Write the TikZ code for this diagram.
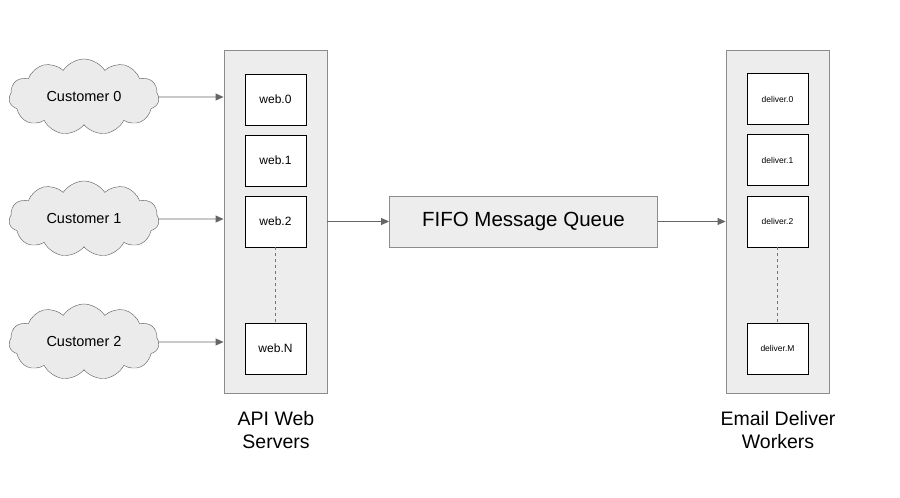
\documentclass[tikz,border=0pt]{standalone}
\usepackage{fontspec}
\setmainfont{Liberation Sans}
\usetikzlibrary{shapes.symbols,arrows.meta}

\begin{document}
\begin{tikzpicture}[x=1pt,y=-1pt,
    customer/.style={cloud, cloud puffs=11, cloud puff arc=115, aspect=2.1, draw=black!65, fill=black!8,
        minimum width=150pt, minimum height=76pt, inner sep=0pt, font=\fontsize{14.5}{17}\selectfont},
    panel/.style={draw=black!45, fill=black!7, line width=0.9pt, minimum width=103pt, minimum height=343pt, inner sep=0pt},
    worker/.style={draw, fill=white, line width=0.8pt, minimum width=61pt, minimum height=51pt, inner sep=0pt},
    flow/.style={-{Triangle[length=8pt,width=7pt]}, draw=black!60, line width=0.9pt},
    gap/.style={dashed, draw=black!55, line width=0.8pt}]
    \useasboundingbox (0,0) rectangle (900,498);

    % customers
    \node[customer] (c0) at (84,97) {Customer 0};
    \node[customer] (c1) at (84,219) {Customer 1};
    \node[customer] (c2) at (84,342) {Customer 2};

    % web servers
    \node[panel] (api) at (275.5,221.5) {};
    \node[worker, font=\fontsize{12}{14}\selectfont] (web0) at (275.5,99.5) {web.0};
    \node[worker, font=\fontsize{12}{14}\selectfont] (web1) at (275.5,160.5) {web.1};
    \node[worker, font=\fontsize{12}{14}\selectfont] (web2) at (275.5,221.5) {web.2};
    \node[worker, font=\fontsize{12}{14}\selectfont] (webN) at (275.5,348.5) {web.N};
    \draw[gap] (web2) -- (webN);

    % queue
    \node[draw=black!45, fill=black!7, line width=0.9pt, minimum width=268pt, minimum height=51pt,
        font=\fontsize{20.5}{24}\selectfont] (queue) at (523.5,221.5) {FIFO Message Queue};

    % workers
    \node[panel] (email) at (777.5,221.5) {};
    \node[worker, font=\fontsize{8.5}{10}\selectfont] (del0) at (777.5,99) {deliver.0};
    \node[worker, font=\fontsize{8.5}{10}\selectfont] (del1) at (777.5,160) {deliver.1};
    \node[worker, font=\fontsize{8.5}{10}\selectfont] (del2) at (777.5,221.5) {deliver.2};
    \node[worker, font=\fontsize{8.5}{10}\selectfont] (delM) at (777.5,348.5) {deliver.M};
    \draw[gap] (del2) -- (delM);

    \node[font=\fontsize{19.5}{23}\selectfont, align=center] (apilabel) at (276,430) {API Web\\Servers};
    \node[font=\fontsize{19.5}{23}\selectfont, align=center] (emaillabel) at (778,430) {Email Deliver\\Workers};

    % arrows
    \foreach \c in {c0,c1,c2}
        \draw[flow] (\c) -- (\c -| api.west);
    \draw[flow] (web2 -| api.east) -- (queue);
    \draw[flow] (queue) -- (queue -| email.west);
\end{tikzpicture}
\end{document}
